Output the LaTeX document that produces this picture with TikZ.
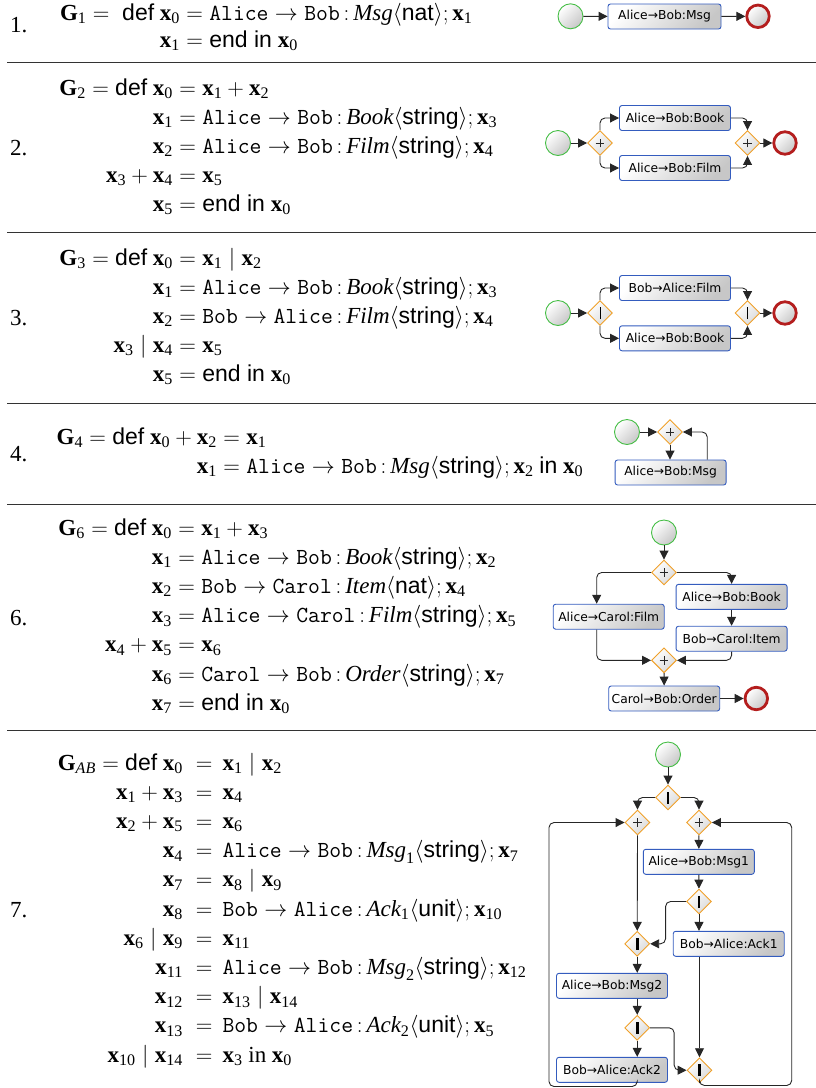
\RequirePackage{fix-cm}
\documentclass[tikz,border=0pt]{standalone}
\usepackage{amsmath}
\usepackage{fontspec}
\setmainfont{Liberation Serif}
\newfontfamily\hvfont{Liberation Sans}
\newfontfamily\djv{DejaVu Sans}
\usetikzlibrary{shapes.geometric,arrows.meta,calc}
\definecolor{taskblue}{RGB}{52,92,190}
\definecolor{startgreen}{RGB}{70,190,70}
\definecolor{endred}{RGB}{180,30,30}
\definecolor{gworange}{RGB}{240,160,40}
\newcommand\vx[1]{\text{\bfseries x}_{\text{#1}}}
\newcommand\GG[1]{\text{\bfseries G}_{#1}}
\newcommand\kw[1]{\text{\hvfont #1}}
\newcommand\pt[1]{\text{\ttfamily #1}}
\newcommand\lb[1]{\text{\itshape #1}}
\newcommand\ms[4]{\pt{#1}\to\pt{#2}\,{:}\,#3\langle\kw{#4}\rangle;}
\newcommand\eqln[5]{\node[eql] (#1l) at (#2,#3) {$#4$};\node[eqr] (#1r) at (#2,#3) {${}={}#5$};}
\newcommand\eqlw[5]{\node[eql] (#1l) at (#2,#3) {$#4$};\node[eqr] (#1r) at (#2,#3) {$\;{}={}\,#5$};}
\begin{document}
\begin{tikzpicture}[x=1pt,y=-1pt,
  eqfont/.style={font=\fontsize{23}{29}\selectfont},
  eql/.style={eqfont,anchor=base east,inner sep=0pt,outer sep=0pt},
  eqr/.style={eqfont,anchor=base west,inner sep=0pt,outer sep=0pt},
  rowlab/.style={eqfont,anchor=base west,inner sep=0pt},
  rulestyle/.style={draw=black!80,line width=0.9pt},
  task/.style={rectangle,rounded corners=2.5pt,draw=taskblue,line width=0.9pt,top color=white,bottom color=black!22,shading angle=45,minimum width=111pt,minimum height=25pt,inner sep=0pt,font=\djv\fontsize{12.3}{14}\selectfont},
  startev/.style={circle,draw=startgreen,line width=0.9pt,minimum size=25pt,inner sep=0pt,top color=white,bottom color=black!22,shading angle=45},
  endev/.style={circle,draw=endred,line width=2.8pt,minimum size=22.5pt,inner sep=0pt,top color=white,bottom color=black!22,shading angle=45},
  gw/.style={diamond,aspect=1,draw=gworange,line width=0.9pt,minimum width=25pt,minimum height=25pt,inner sep=0pt,top color=white,bottom color=black!15,shading angle=45},
  gwplus/.style={gw,path picture={\draw[line width=0.8pt,black!85] ([xshift=-4.3pt]path picture bounding box.center) -- ([xshift=4.3pt]path picture bounding box.center) ([yshift=-4.3pt]path picture bounding box.center) -- ([yshift=4.3pt]path picture bounding box.center);}},
  gwbar/.style={gw,path picture={\draw[line width=#1,black] ([yshift=-6pt]path picture bounding box.center) -- ([yshift=6pt]path picture bounding box.center);}},
  gwbar/.default=1pt,
  flow/.style={draw=black!85,line width=0.9pt,rounded corners=5pt,-{Triangle[length=9pt,width=9pt]}},
  plainflow/.style={draw=black!85,line width=0.9pt,rounded corners=5pt}
]
\useasboundingbox (0,0) rectangle (816,1088);
% rules
\draw[rulestyle] (7,62) -- (816,62);
\draw[rulestyle] (7,232) -- (816,232);
\draw[rulestyle] (7,403) -- (816,403);
\draw[rulestyle] (7,504) -- (816,504);
\draw[rulestyle] (7,730) -- (816,730);
% row labels
\node[rowlab] (n1) at (10,32) {1.};
\node[rowlab] (n2) at (10,155) {2.};
\node[rowlab] (n3) at (10,325) {3.};
\node[rowlab] (n4) at (10,461) {4.};
\node[rowlab] (n6) at (10,625) {6.};
\node[rowlab] (n7) at (10,917) {7.};
% row 1 equations
\eqln{a1}{180}{20}{\GG{\text{1}}={}\;\kw{def}\ \vx{0}}{\ms{Alice}{Bob}{\lb{Msg}}{nat}\vx{1}}
\eqln{a2}{180}{47}{\vx{1}}{\kw{end in}\ \vx{0}}
% row 2
\eqln{b1}{173}{95}{\GG{\text{2}}=\kw{def}\ \vx{0}}{\vx{1}+\vx{2}}
\eqln{b2}{173}{124}{\vx{1}}{\ms{Alice}{Bob}{\lb{Book}}{string}\vx{3}}
\eqln{b3}{173}{153}{\vx{2}}{\ms{Alice}{Bob}{\lb{Film}}{string}\vx{4}}
\eqln{b4}{173}{182}{\vx{3}+\vx{4}}{\vx{5}}
\eqln{b5}{173}{211}{\vx{5}}{\kw{end in}\ \vx{0}}
% row 3
\eqln{c1}{173}{265}{\GG{\text{3}}=\kw{def}\ \vx{0}}{\vx{1}\mid\vx{2}}
\eqln{c2}{173}{294}{\vx{1}}{\ms{Alice}{Bob}{\lb{Book}}{string}\vx{3}}
\eqln{c3}{173}{323}{\vx{2}}{\ms{Bob}{Alice}{\lb{Film}}{string}\vx{4}}
\eqln{c4}{173}{352}{\vx{3}\mid\vx{4}}{\vx{5}}
\eqln{c5}{173}{381}{\vx{5}}{\kw{end in}\ \vx{0}}
% row 4
\eqln{d1}{217}{444}{\GG{\text{4}}=\kw{def}\ \vx{0}+\vx{2}}{\vx{1}}
\eqln{d2}{217}{473}{\vx{1}}{\ms{Alice}{Bob}{\lb{Msg}}{string}\vx{2}\ \kw{in}\ \vx{0}}
% row 6
\eqln{f1}{172}{535}{\GG{\text{6}}=\kw{def}\ \vx{0}}{\vx{1}+\vx{3}}
\eqln{f2}{172}{564.2}{\vx{1}}{\ms{Alice}{Bob}{\lb{Book}}{string}\vx{2}}
\eqln{f3}{172}{593.4}{\vx{2}}{\ms{Bob}{Carol}{\lb{Item}}{nat}\vx{4}}
\eqln{f4}{172}{622.6}{\vx{3}}{\ms{Alice}{Carol}{\lb{Film}}{string}\vx{5}}
\eqln{f5}{172}{651.8}{\vx{4}+\vx{5}}{\vx{6}}
\eqln{f6}{172}{681}{\vx{6}}{\ms{Carol}{Bob}{\lb{Order}}{string}\vx{7}}
\eqln{f7}{172}{710.2}{\vx{7}}{\kw{end in}\ \vx{0}}
% row 7
\eqlw{g1}{183}{770}{\GG{\text{\itshape AB}}=\kw{def}\ \vx{0}}{\vx{1}\mid\vx{2}}
\eqlw{g2}{183}{799.2}{\vx{1}+\vx{3}}{\vx{4}}
\eqlw{g3}{183}{828.4}{\vx{2}+\vx{5}}{\vx{6}}
\eqlw{g4}{183}{857.6}{\vx{4}}{\ms{Alice}{Bob}{\lb{Msg}_{\text{1}}}{string}\vx{7}}
\eqlw{g5}{183}{886.8}{\vx{7}}{\vx{8}\mid\vx{9}}
\eqlw{g6}{183}{916}{\vx{8}}{\ms{Bob}{Alice}{\lb{Ack}_{\text{1}}}{unit}\vx{10}}
\eqlw{g7}{183}{945.2}{\vx{6}\mid\vx{9}}{\vx{11}}
\eqlw{g8}{183}{974.4}{\vx{11}}{\ms{Alice}{Bob}{\lb{Msg}_{\text{2}}}{string}\vx{12}}
\eqlw{g9}{183}{1003.6}{\vx{12}}{\vx{13}\mid\vx{14}}
\eqlw{g10}{183}{1032.8}{\vx{13}}{\ms{Bob}{Alice}{\lb{Ack}_{\text{2}}}{unit}\vx{5}}
\eqlw{g11}{183}{1062}{\vx{10}\mid\vx{14}}{\vx{3}\ \text{in}\ \vx{0}}
% ---------- diagram 1
\node[startev] (s1) at (570.5,16.3) {};
\node[task,minimum width=113pt] (t1) at (664.5,16.5) {Alice→Bob:Msg};
\node[endev] (e1) at (758,16.3) {};
\draw[flow] (s1) -- (t1);
\draw[flow] (t1) -- (e1);
% ---------- diagram 2
\node[startev] (s2) at (558,143) {};
\node[gwplus] (g2a) at (600,143) {};
\node[task] (t2a) at (675,118) {Alice→Bob:Book};
\node[task] (t2b) at (675,168) {Alice→Bob:Film};
\node[gwplus] (g2b) at (747.5,143) {};
\node[endev] (e2) at (785,143) {};
\draw[flow] (s2) -- (g2a);
\draw[flow] (g2a.north) |- (t2a.west);
\draw[flow] (g2a.south) |- (t2b.west);
\draw[flow] (t2a.east) -| (g2b.north);
\draw[flow] (t2b.east) -| (g2b.south);
\draw[flow] (g2b) -- (e2);
% ---------- diagram 3
\node[startev] (s3) at (558,313) {};
\node[gwbar] (g3a) at (600,313) {};
\node[task] (t3a) at (675,288) {Bob→Alice:Film};
\node[task] (t3b) at (675,338.3) {Alice→Bob:Book};
\node[gwbar] (g3b) at (747.5,313) {};
\node[endev] (e3) at (785,313) {};
\draw[flow] (s3) -- (g3a);
\draw[flow] (g3a.north) |- (t3a.west);
\draw[flow] (g3a.south) |- (t3b.west);
\draw[flow] (t3a.east) -| (g3b.north);
\draw[flow] (t3b.east) -| (g3b.south);
\draw[flow] (g3b) -- (e3);
% ---------- diagram 4
\node[startev] (s4) at (627,432) {};
\node[gwplus] (g4) at (670,432) {};
\node[task] (t4) at (670.6,472.5) {Alice→Bob:Msg};
\draw[flow] (s4) -- (g4);
\draw[flow] (g4.south) -- (t4.north -| g4.south);
\draw[flow] ([xshift=-19.3pt]t4.north east) |- (g4.east);
% ---------- diagram 6
\node[startev] (s6) at (664,532.5) {};
\node[gwplus] (g6a) at (664,572.5) {};
\node[task] (t6a) at (608.7,616.7) {Alice→Carol:Film};
\node[task] (t6b) at (731.6,596.8) {Alice→Bob:Book};
\node[task] (t6c) at (731.6,638.7) {Bob→Carol:Item};
\node[gwplus] (g6b) at (664,660.3) {};
\node[task] (t6d) at (664.2,698.5) {Carol→Bob:Order};
\node[endev] (e6) at (756.3,698.5) {};
\draw[flow] (s6) -- (g6a);
\draw[flow] (g6a.west) -| ([xshift=-12pt]t6a.north);
\draw[flow] (g6a.east) -| (t6b.north);
\draw[flow] (t6b) -- (t6c);
\draw[flow] (t6c.south) |- (g6b.east);
\draw[flow] ([xshift=-12pt]t6a.south) |- (g6b.west);
\draw[flow] (g6b) -- (t6d);
\draw[flow] (t6d) -- (e6);
% ---------- diagram 7
\node[startev] (s7) at (668,754.5) {};
\node[gwbar=2.6pt] (g7a) at (668,797.5) {};
\node[gwplus] (g7b) at (637.5,822.5) {};
\node[gwplus] (g7c) at (699,822.5) {};
\node[task] (t7a) at (698.8,861.8) {Alice→Bob:Msg1};
\node[gwbar=2.6pt] (g7d) at (699,901.5) {};
\node[task] (t7b) at (728.7,943.8) {Bob→Alice:Ack1};
\node[gwbar=2.6pt] (g7e) at (637.2,943.8) {};
\node[task] (t7c) at (612,985.8) {Alice→Bob:Msg2};
\node[gwbar=2.6pt] (g7f) at (637.2,1027.8) {};
\node[task] (t7d) at (612,1069.8) {Bob→Alice:Ack2};
\node[gwbar=2.6pt] (g7g) at (699.5,1070.2) {};
\coordinate (rb) at (791.7,1085.5);
\coordinate (lb) at (549,1086.5);
\draw[flow] (s7) -- (g7a);
\draw[flow] (g7a.west) -| (g7b.north);
\draw[flow] (g7a.east) -| (g7c.north);
\draw[flow] (g7c) -- (t7a);
\draw[flow] (t7a) -- (g7d);
\draw[flow] (g7d.south) -- (g7d.south |- t7b.north);
\draw[flow] (g7d.west) -- ++(-20.5,0) |- (g7e.east);
\draw[flow] (g7b.south) -- (g7e.north);
\draw[flow] (g7e.south) -- (g7e.south |- t7c.north);
\draw[flow] (g7e.south |- t7c.south) -- (g7f.north);
\draw[flow] (g7f.south) -- (g7f.south |- t7d.north);
\draw[flow] (g7f.east) -- ++(24,0) |- (g7g.west);
\draw[flow] (g7g.north |- t7b.south) -- (g7g.north);
\draw[flow] (g7g.south) |- (rb) |- (g7c.east);
\draw[flow] (g7f.south |- t7d.south) |- (lb) |- (g7b.west);
\end{tikzpicture}
\end{document}
